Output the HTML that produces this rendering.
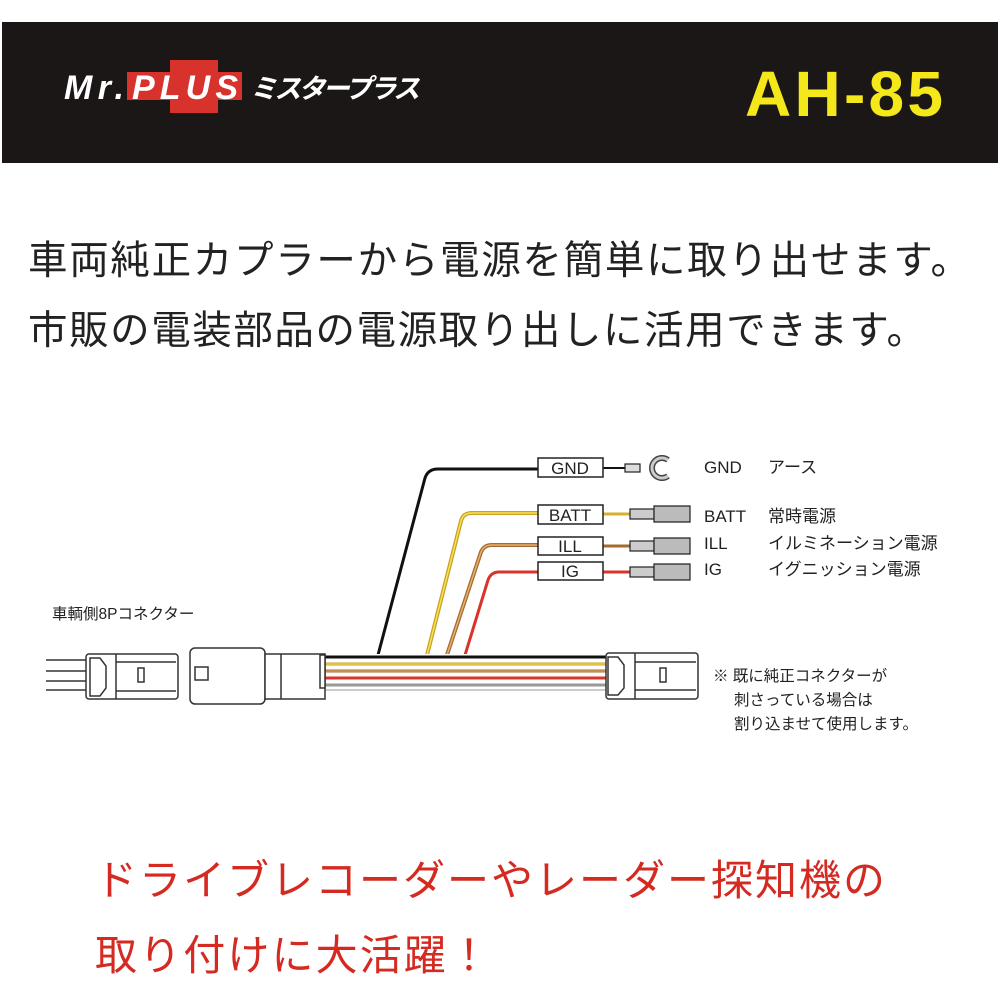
<!DOCTYPE html>
<html><head><meta charset="utf-8"><style>
body{margin:0;background:#fff;}
svg{display:block;font-family:"Liberation Sans","Noto Sans CJK JP",sans-serif;}
</style></head><body>
<svg width="1000" height="1000" viewBox="0 0 1000 1000" xmlns="http://www.w3.org/2000/svg">
<rect x="2" y="22" width="996" height="141" fill="#1a1716"/>
<path d="M170 60 H218 V72 H242 V100 H218 V113 H170 V100 H127 V72 H170 Z" fill="#d7322c"/>
<text x="64" y="99" font-size="34" font-weight="bold" font-style="italic" fill="#fff" textLength="60">Mr.</text>
<text x="132" y="99" font-size="34" font-weight="bold" font-style="italic" fill="#fff" textLength="106">PLUS</text>
<text x="250" y="98" font-size="27" font-weight="bold" font-style="italic" fill="#fff" textLength="170">ミスタープラス</text>
<text x="745" y="116" font-size="64" font-weight="bold" fill="#f5e81a" textLength="198">AH-85</text>

<text x="28" y="274" font-size="39.5" fill="#222" textLength="942">車両純正カプラーから電源を簡単に取り出せます。</text>
<text x="28" y="344" font-size="39.5" fill="#222" textLength="898">市販の電装部品の電源取り出しに活用できます。</text>

<text x="95" y="895" font-size="42" fill="#d42a22" textLength="790">ドライブレコーダーやレーダー探知機の</text>
<text x="95" y="970" font-size="42" fill="#d42a22" textLength="395">取り付けに大活躍！</text>

<g fill="none" stroke-linecap="round">
<path d="M378 655 L425 478 Q428 469 438 469 H540" stroke="#111" stroke-width="3"/>
<path d="M425 663 L461 521 Q463 513 472 513 H540" stroke="#c9a020" stroke-width="4"/>
<path d="M425 663 L461 521 Q463 513 472 513 H540" stroke="#f5e35a" stroke-width="1.5"/>
<path d="M442 670 L481 552 Q484 545 492 545 H540" stroke="#a56a2f" stroke-width="4"/>
<path d="M442 670 L481 552 Q484 545 492 545 H540" stroke="#e6b070" stroke-width="1.5"/>
<path d="M458 678 L488 580 Q491 572 499 572 H540" stroke="#d9332a" stroke-width="3"/>
<line x1="603" y1="468" x2="625" y2="468" stroke="#111" stroke-width="2"/>
<line x1="603" y1="514" x2="630" y2="514" stroke="#d4b030" stroke-width="3"/>
<line x1="603" y1="546" x2="630" y2="546" stroke="#a56a2f" stroke-width="3"/>
<line x1="603" y1="572" x2="630" y2="572" stroke="#d9332a" stroke-width="3"/>
</g>
<rect x="325" y="654" width="285" height="38" fill="#fff"/>
<line x1="325" y1="657" x2="610" y2="657" stroke="#111" stroke-width="3"/>
<line x1="325" y1="664" x2="610" y2="664" stroke="#c9a020" stroke-width="3"/>
<line x1="325" y1="664" x2="610" y2="664" stroke="#f5e35a" stroke-width="1"/>
<line x1="325" y1="671" x2="610" y2="671" stroke="#a56a2f" stroke-width="3"/>
<line x1="325" y1="671" x2="610" y2="671" stroke="#e6b070" stroke-width="1"/>
<line x1="325" y1="678" x2="610" y2="678" stroke="#d9332a" stroke-width="3"/>
<line x1="325" y1="685" x2="610" y2="685" stroke="#999" stroke-width="3"/>
<line x1="325" y1="690" x2="610" y2="690" stroke="#ccc" stroke-width="2"/>
<g fill="#fff" stroke="#222" stroke-width="1.5">
<rect x="538" y="458" width="65" height="19"/>
<rect x="538" y="505" width="65" height="19"/>
<rect x="538" y="537" width="65" height="18"/>
<rect x="538" y="562" width="65" height="18"/>
</g>
<g font-size="17" fill="#222" text-anchor="middle">
<text x="570" y="474">GND</text><text x="570" y="521">BATT</text>
<text x="570" y="552">ILL</text><text x="570" y="577">IG</text>
</g>
<rect x="625" y="464" width="15" height="8" fill="#ddd" stroke="#222" stroke-width="1.2"/>
<path d="M668 460 A10 10 0 1 0 668 476" fill="none" stroke="#444" stroke-width="6"/>
<path d="M668 460 A10 10 0 1 0 668 476" fill="none" stroke="#ccc" stroke-width="3"/>
<g stroke="#222" stroke-width="1.2">
<rect x="630" y="509" width="24" height="10" fill="#ccc"/><path d="M654 506 H690 V522 H654 Z" fill="#bbb"/>
<rect x="630" y="541" width="24" height="10" fill="#ccc"/><path d="M654 538 H690 V554 H654 Z" fill="#bbb"/>
<rect x="630" y="567" width="24" height="10" fill="#ccc"/><path d="M654 564 H690 V580 H654 Z" fill="#bbb"/>
</g>
<g font-size="17" fill="#222">
<text x="704" y="473">GND</text><text x="768" y="473">アース</text>
<text x="704" y="522">BATT</text><text x="768" y="522">常時電源</text>
<text x="704" y="549">ILL</text><text x="768" y="549">イルミネーション電源</text>
<text x="704" y="575">IG</text><text x="768" y="575">イグニッション電源</text>
</g>
<g font-size="15.5" fill="#222">
<text x="713" y="681">※ 既に純正コネクターが</text>
<text x="734" y="705">刺さっている場合は</text>
<text x="734" y="729">割り込ませて使用します。</text>
<text x="52" y="619">車輌側8Pコネクター</text>
</g>
<g stroke="#333" stroke-width="1.5" fill="#fff">
<line x1="46" y1="660" x2="86" y2="660"/><line x1="46" y1="671" x2="86" y2="671"/>
<line x1="46" y1="681" x2="86" y2="681"/><line x1="46" y1="690" x2="86" y2="690"/>
<rect x="86" y="654" width="92" height="45" rx="3"/>
<path d="M90 658 H100 L106 666 V688 L100 696 H90 Z"/>
<line x1="116" y1="654" x2="116" y2="699"/>
<line x1="116" y1="662" x2="176" y2="662"/><line x1="116" y1="691" x2="176" y2="691"/>
<rect x="138" y="668" width="6" height="14"/>
<rect x="190" y="648" width="75" height="56" rx="5"/>
<rect x="195" y="667" width="13" height="13"/>
<rect x="265" y="654" width="60" height="45"/>
<line x1="281" y1="654" x2="281" y2="699"/>
<rect x="320" y="655" width="5" height="33"/>
</g>
<g stroke="#333" stroke-width="1.5" fill="#fff">
<rect x="606" y="653" width="92" height="46" rx="3"/>
<path d="M608 657 H618 L624 665 V688 L618 695 H608 Z"/>
<line x1="635" y1="653" x2="635" y2="699"/>
<line x1="635" y1="662" x2="696" y2="662"/><line x1="635" y1="690" x2="696" y2="690"/>
<rect x="660" y="668" width="6" height="14"/>
</g>
</svg>
</body></html>
